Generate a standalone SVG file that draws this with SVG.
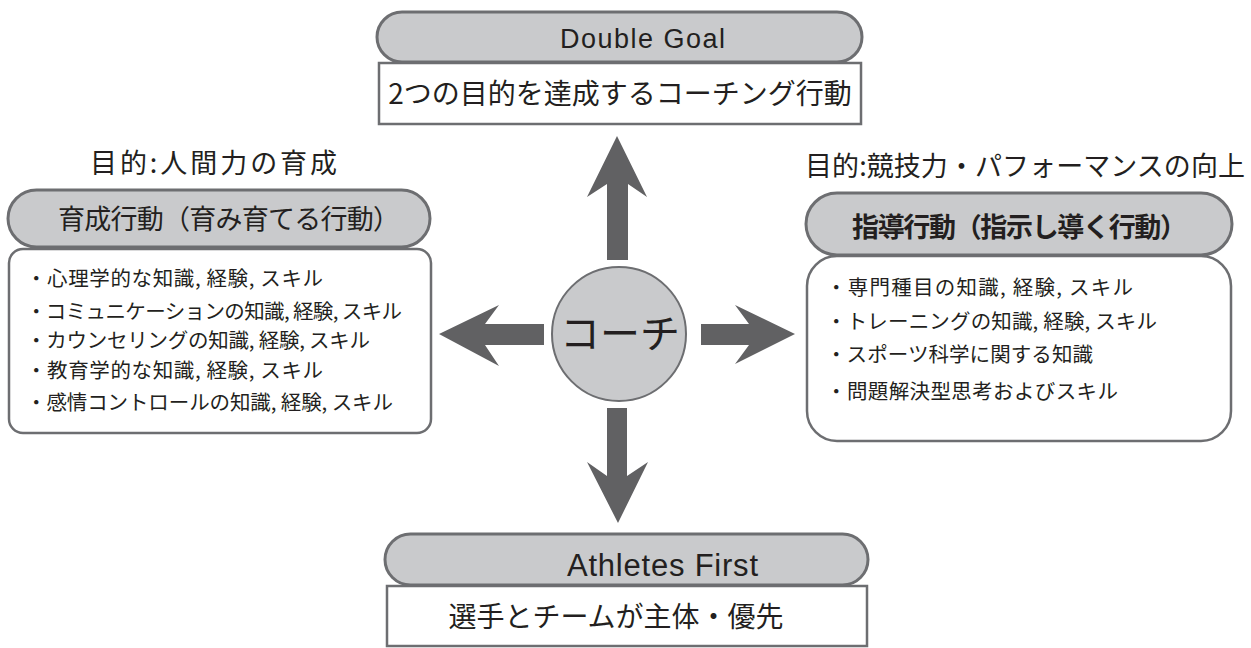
<svg xmlns="http://www.w3.org/2000/svg" width="1251" height="648" viewBox="0 0 1251 648">
<style>
.pill{fill:#c9cacc;stroke:#6d6e71;stroke-width:3}
.box{fill:#fff;stroke:#6d6e71;stroke-width:2.5}
.arrow{fill:#616163}
.jp{font-family:"Noto Sans CJK JP","Noto Sans",sans-serif;fill:#231f20}
.en{font-family:"Liberation Sans",Arial,sans-serif;fill:#231f20}
.item{font-size:20.5px}
</style>
<rect width="1251" height="648" fill="#fff"/>
<g id="connectors">
<polygon class="arrow" points="617,136 647,197 628,184 628,260 607,260 607,184 587,197"/>
<polygon class="arrow" points="618,523 648,462 627,476 627,408 607,408 607,476 587,462"/>
<polygon class="arrow" points="439,334 499,305 485,324 544,324 544,345 485,345 499,366"/>
<polygon class="arrow" points="795,334 735,305 749,324 701,324 701,345 749,345 735,364"/>
</g>
<g id="double-goal">
<rect class="pill" x="377" y="12" width="485" height="50" rx="25"/>
<rect class="box" x="379" y="63" width="482" height="61"/>
<text class="en" x="560" y="48" font-size="27" textLength="165" lengthAdjust="spacing">Double Goal</text>
<text class="jp" x="620" y="104" font-size="28" text-anchor="middle">2つの目的を達成するコーチング行動</text>
</g>
<g id="coach">
<circle cx="619" cy="334" r="67" fill="#c9cacc" stroke="#6d6e71" stroke-width="2"/>
<text class="jp" x="620" y="348" font-size="40" text-anchor="middle">コーチ</text>
</g>
<g id="left-node">
<text class="jp" x="90" y="173" font-size="27" textLength="247" lengthAdjust="spacing">目的:人間力の育成</text>
<rect class="pill" x="8" y="190" width="422" height="57" rx="28.5"/>
<text class="jp" x="58" y="229" font-size="27" textLength="342" lengthAdjust="spacing">育成行動（育み育てる行動）</text>
<rect class="box" x="9" y="249" width="422" height="184" rx="14"/>
<text class="jp item" x="26" y="286" textLength="297" lengthAdjust="spacing">・心理学的な知識, 経験, スキル</text>
<text class="jp item" x="26" y="319" textLength="376" lengthAdjust="spacing">・コミュニケーションの知識, 経験, スキル</text>
<text class="jp item" x="26" y="348" textLength="344" lengthAdjust="spacing">・カウンセリングの知識, 経験, スキル</text>
<text class="jp item" x="26" y="378" textLength="297" lengthAdjust="spacing">・教育学的な知識, 経験, スキル</text>
<text class="jp item" x="26" y="410" textLength="367" lengthAdjust="spacing">・感情コントロールの知識, 経験, スキル</text>
</g>
<g id="right-node">
<text class="jp" x="805" y="176" font-size="27" textLength="440" lengthAdjust="spacing">目的:競技力・パフォーマンスの向上</text>
<rect class="pill" x="806" y="193" width="426" height="62" rx="31"/>
<text class="jp" x="852" y="237" font-size="27" font-weight="bold" textLength="335" lengthAdjust="spacing">指導行動（指示し導く行動）</text>
<rect class="box" x="807" y="256" width="424" height="185" rx="30"/>
<text class="jp item" x="826" y="295" textLength="307" lengthAdjust="spacing">・専門種目の知識, 経験, スキル</text>
<text class="jp item" x="826" y="329" textLength="331" lengthAdjust="spacing">・トレーニングの知識, 経験, スキル</text>
<text class="jp item" x="826" y="362" textLength="267" lengthAdjust="spacing">・スポーツ科学に関する知識</text>
<text class="jp item" x="826" y="399" textLength="292" lengthAdjust="spacing">・問題解決型思考およびスキル</text>
</g>
<g id="athletes-first">
<rect class="pill" x="385" y="534" width="483" height="51" rx="25.5"/>
<rect class="box" x="387" y="586" width="480" height="60"/>
<text class="en" x="567" y="576" font-size="31" textLength="191" lengthAdjust="spacing">Athletes First</text>
<text class="jp" x="616" y="627" font-size="28" text-anchor="middle">選手とチームが主体・優先</text>
</g>
</svg>
